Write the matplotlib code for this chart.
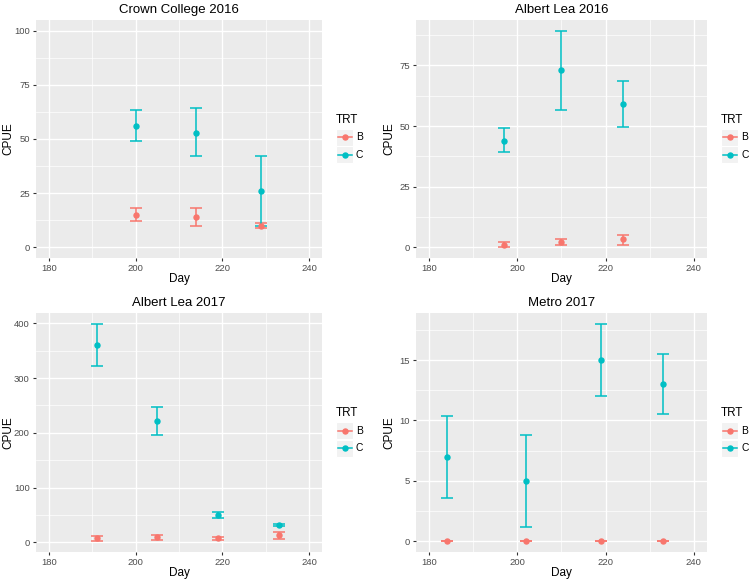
import numpy as np
import matplotlib
matplotlib.use("Agg")
import matplotlib.pyplot as plt
from matplotlib.patches import Rectangle
from matplotlib.lines import Line2D

plt.rcParams['font.family'] = ['Liberation Sans', 'DejaVu Sans']

W, H = 750, 583
COL_B = '#F8766D'
COL_C = '#00BFC4'

titles = ['Crown College 2016', 'Albert Lea 2016', 'Albert Lea 2017', 'Metro 2017']

# day, mean, lower, upper for each treatment
days_b = [[200, 214, 229], [197, 210, 224], [191, 205, 219, 233], [184, 202, 219, 233]]
cpue_b = [[15, 14, 10], [1.1, 2.0, 3.3], [7.3, 9.7, 7.3, 13.6], [0, 0, 0, 0]]
low_b = [[12, 9.8, 8.9], [0, 0.8, 1.1], [2.4, 4.9, 4.2, 6.6], [0, 0, 0, 0]]
high_b = [[18.2, 18.3, 11.4], [2.3, 3.3, 5.1], [11, 14, 10.2, 19.8], [0, 0, 0, 0]]

days_c = [[200, 214, 229], [197, 210, 224], [191, 205, 219, 233], [184, 202, 219, 233]]
cpue_c = [[56, 53, 26], [44, 73, 59], [360, 222, 50, 32], [7, 5, 15, 13]]
low_c = [[48.9, 42, 10], [39.1, 56.6, 49.4], [322, 197, 45, 30.5], [3.6, 1.2, 12, 10.5]]
high_c = [[63.4, 64.3, 42], [49.1, 89.3, 68.6], [399, 248, 54.8, 33.5], [10.4, 8.8, 18, 15.5]]

yticks = [[0, 25, 50, 75, 100], [0, 25, 50, 75], [0, 100, 200, 300, 400], [0, 5, 10, 15]]
set_ylim = [(0, 100), None, None, None]
xticks = [180, 200, 220, 240]

# panel boxes in pixels: left, top, right, bottom, and x of the CPUE label
boxes = [(36, 20, 322, 258), (416, 20, 707, 258),
         (36, 313, 322, 552), (416, 313, 707, 552)]
ylab_x = [8, 389, 8, 389]


def fx(px):
    return px / W


def fy(py):
    return 1 - py / H


fig = plt.figure(figsize=(W / 100, H / 100), dpi=100)

for i in range(4):
    l, t, r, b = boxes[i]
    ax = fig.add_axes([fx(l), fy(b), (r - l) / W, (b - t) / H])
    ax.set_facecolor('#EBEBEB')
    for s in ax.spines.values():
        s.set_visible(False)

    ax.set_xlim(177, 243)
    if set_ylim[i] is not None:
        lo, hi = set_ylim[i]
    else:
        lo = min(low_b[i] + low_c[i])
        hi = max(high_b[i] + high_c[i])
    pad = (hi - lo) * 0.05
    ax.set_ylim(lo - pad, hi + pad)

    ax.set_xticks(xticks)
    ax.set_yticks(yticks[i])
    step = yticks[i][1] - yticks[i][0]
    ax.set_xticks([190, 210, 230], minor=True)
    ax.set_yticks(np.arange(yticks[i][0] + step / 2, hi + pad, step), minor=True)
    ax.grid(True, which='major', color='white', lw=1.0)
    ax.grid(True, which='minor', color='white', lw=0.5)
    ax.set_axisbelow(True)
    ax.tick_params(which='major', length=2.5, width=0.8, color='#333333',
                   labelsize=6.8, labelcolor='#4D4D4D', pad=2)
    ax.tick_params(which='minor', length=0)

    for d, m, lw_, hi_, col in [(days_b[i], cpue_b[i], low_b[i], high_b[i], COL_B),
                                (days_c[i], cpue_c[i], low_c[i], high_c[i], COL_C)]:
        m = np.array(m)
        yerr = [m - np.array(lw_), np.array(hi_) - m]
        ax.errorbar(d, m, yerr=yerr, fmt='o', color=col, ms=3.6, elinewidth=1.1,
                    capsize=4.6, capthick=1.1)

    ax.text(0.5, 1 + 10 / (b - t), titles[i], transform=ax.transAxes,
            ha='center', va='center', fontsize=9.5)
    ax.set_xlabel('Day', fontsize=8.5)
    ax.set_ylabel('CPUE', fontsize=8.5)
    ax.xaxis.set_label_coords(0.5, -21 / (b - t))
    ax.xaxis.label.set_va('center')
    ax.yaxis.set_label_coords((ylab_x[i] - l) / (r - l), 0.5)
    ax.yaxis.label.set_va('center')

    # legend
    lx = r + 14
    cy = (t + b) / 2
    fig.text(fx(lx), fy(cy - 19), 'TRT', ha='left', va='center', fontsize=8.4)
    for k, (lab, col) in enumerate([('B', COL_B), ('C', COL_C)]):
        kc = cy - 2 + k * 17.5
        fig.add_artist(Rectangle((fx(lx), fy(kc + 8.5)), 17 / W, 17 / H,
                                 transform=fig.transFigure, facecolor='#F2F2F2',
                                 edgecolor='white', lw=0.8))
        fig.add_artist(Line2D([fx(lx + 1.5), fx(lx + 15.5)], [fy(kc), fy(kc)],
                              transform=fig.transFigure, color=col, lw=1.1))
        fig.add_artist(Line2D([fx(lx + 8.5)], [fy(kc)], transform=fig.transFigure,
                              color=col, marker='o', ms=3.6, lw=0))
        fig.text(fx(lx + 20), fy(kc), lab, ha='left', va='center', fontsize=7.4)

fig.savefig('out.png', dpi=100)
